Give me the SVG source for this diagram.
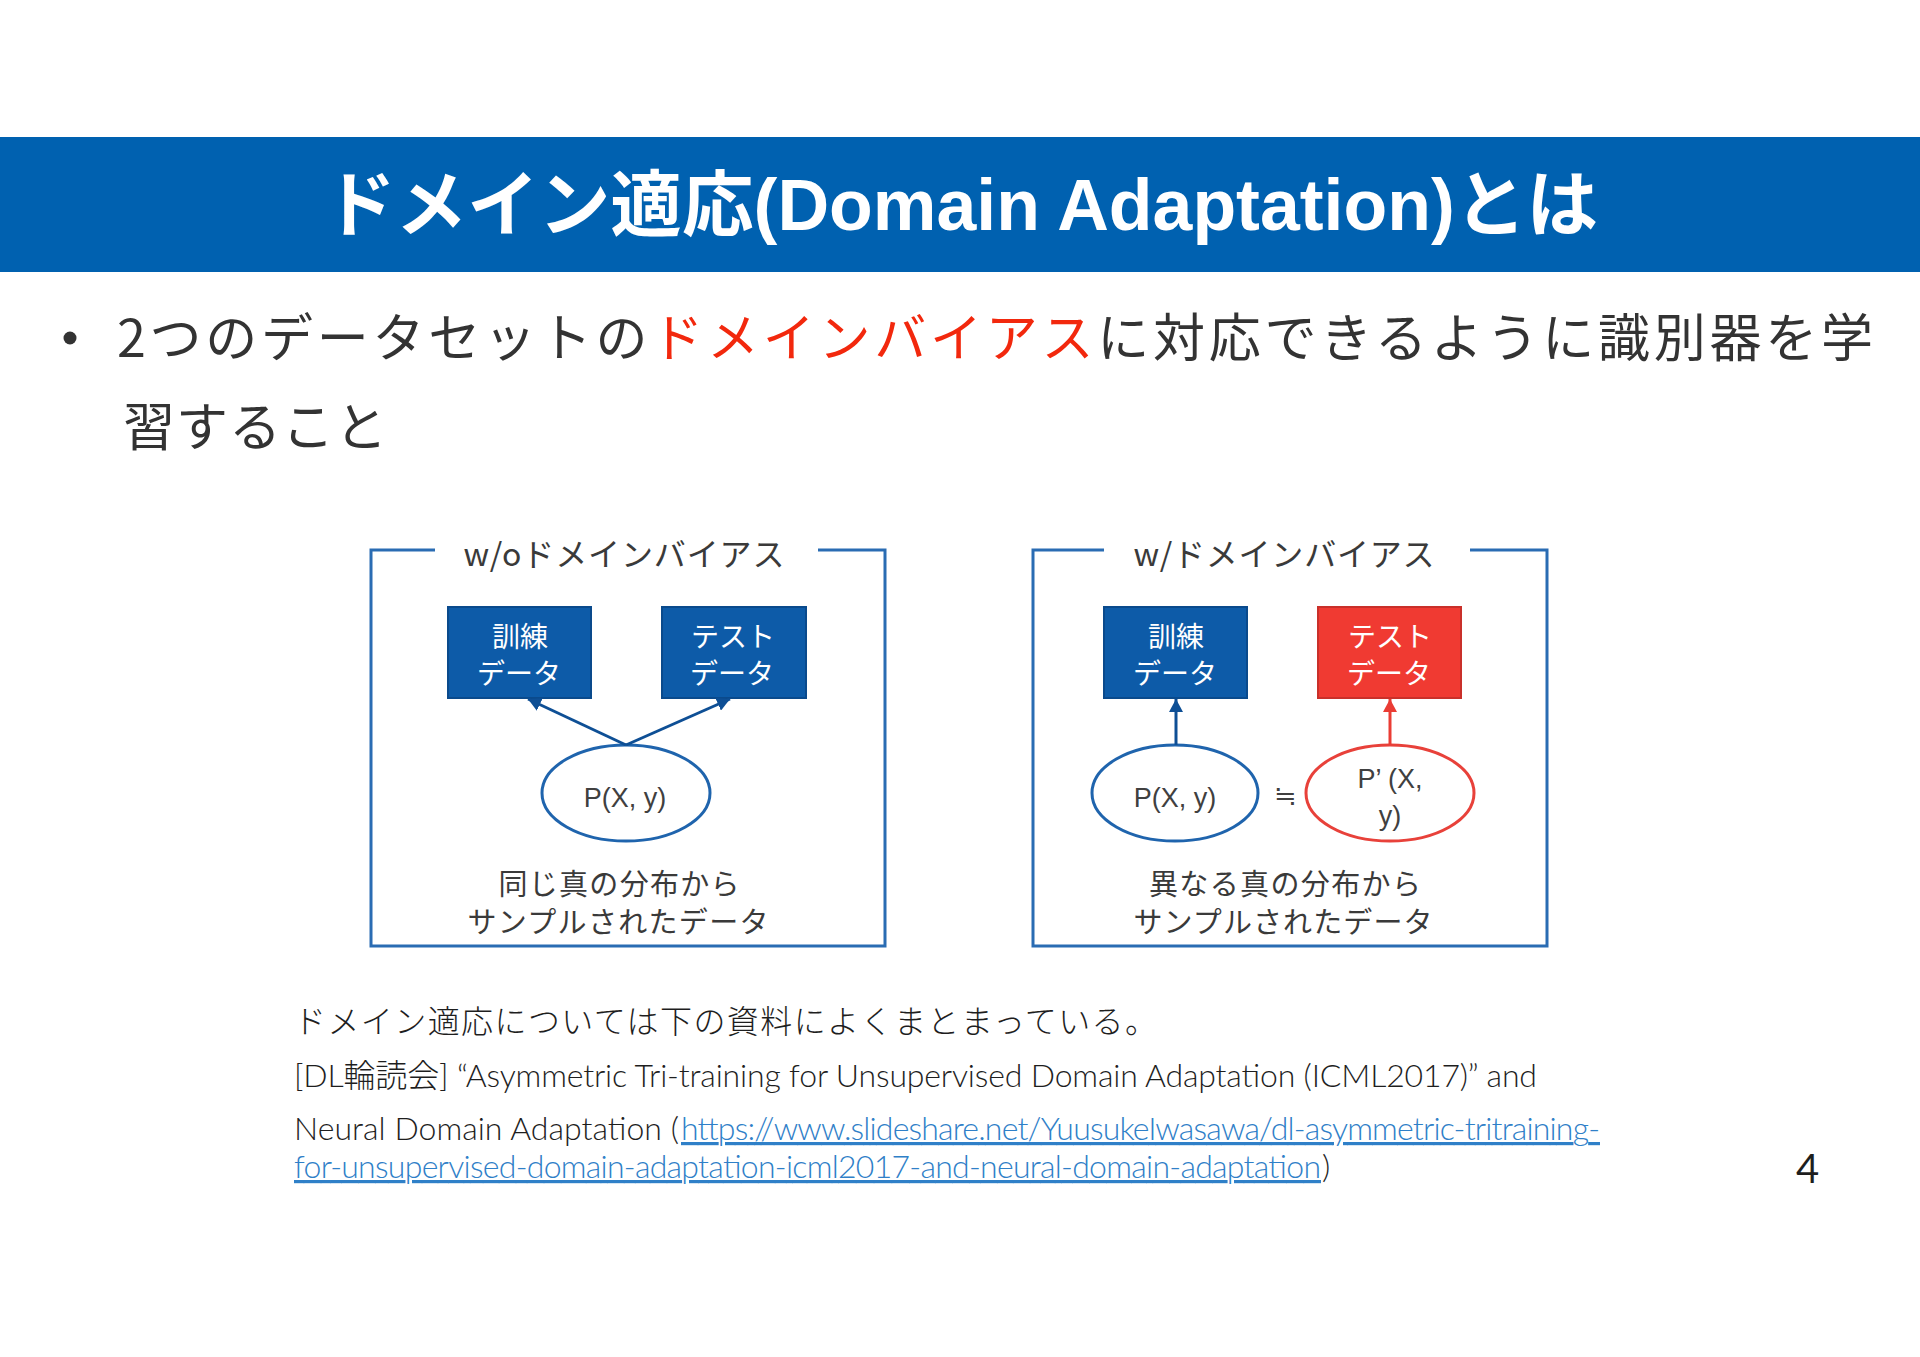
<svg xmlns="http://www.w3.org/2000/svg" width="1920" height="1357" viewBox="0 0 1920 1357">
<defs>
<style>
.jp{font-family:"Noto Sans CJK JP","Noto Sans",sans-serif;fill:#333333}
.title{font-family:"Liberation Sans","Noto Sans CJK JP",sans-serif;font-weight:bold;fill:#ffffff;font-size:72px}
.frame{fill:none;stroke:#2a6cb3;stroke-width:3}
.ptitle{font-family:"Noto Sans CJK JP",sans-serif;font-size:32px;fill:#3a3a3a;text-anchor:middle}
.boxb{fill:#0d5ba8;stroke:#0a4a8c;stroke-width:2}
.boxr{fill:#f03a32;stroke:#c9302a;stroke-width:2}
.boxt{font-family:"Noto Sans CJK JP",sans-serif;font-size:28px;fill:#ffffff;text-anchor:middle}
.ellb{fill:#ffffff;stroke:#1f64ad;stroke-width:3}
.ellr{fill:#ffffff;stroke:#e8413a;stroke-width:3}
.et{font-family:"Liberation Sans","Noto Sans CJK JP",sans-serif;font-size:27px;fill:#404040;text-anchor:middle}
.cap{font-family:"Noto Sans CJK JP",sans-serif;font-size:29px;fill:#3a3a3a;text-anchor:middle}
.ft{font-family:Lato,"Noto Sans CJK JP",sans-serif;font-weight:300;font-size:32px;fill:#1e1e1e}
.link{font-family:Lato,"Noto Sans CJK JP",sans-serif;font-weight:300;font-size:32px;fill:#2f80c8;text-decoration:underline}
.pg{font-family:Lato,sans-serif;font-size:40px;fill:#1e1e1e}
.cb{fill:none;stroke:#0e4f95;stroke-width:3}
.cr{fill:none;stroke:#ea3c34;stroke-width:3}
</style>
<marker id="ab" markerUnits="userSpaceOnUse" markerWidth="16" markerHeight="14" refX="13" refY="7" orient="auto">
<path d="M0,0 L13,7 L0,14 z" fill="#0e4f95"/>
</marker>
<marker id="ar" markerUnits="userSpaceOnUse" markerWidth="16" markerHeight="14" refX="13" refY="7" orient="auto">
<path d="M0,0 L13,7 L0,14 z" fill="#ea3c34"/>
</marker>
</defs>
<rect width="1920" height="1357" fill="#ffffff"/>

<g id="header">
<rect x="0" y="137" width="1920" height="135" fill="#0061b0"/>
<text class="title" x="324" y="230" textLength="1274" lengthAdjust="spacingAndGlyphs">ドメイン適応(Domain Adaptation)とは</text>
</g>

<g id="bullet">
<circle cx="70" cy="338" r="6.5" fill="#333333"/>
<text class="jp" x="117" y="357" font-size="52" textLength="1756">2つのデータセットの<tspan fill="#f2280d">ドメインバイアス</tspan>に対応できるように識別器を学</text>
<text class="jp" x="123" y="446" font-size="52" textLength="264">習すること</text>
</g>

<g id="panel-left">
<path class="frame" d="M435,550 H371 V946 H885 V550 H818"/>
<text class="ptitle" x="624" y="566" textLength="321">w/oドメインバイアス</text>
<text class="cap" x="619" y="895" textLength="241">同じ真の分布から</text>
<text class="cap" x="618" y="933" textLength="301">サンプルされたデータ</text>
</g>

<g id="panel-right">
<path class="frame" d="M1104,550 H1033 V946 H1547 V550 H1470"/>
<text class="ptitle" x="1284" y="566" textLength="301">w/ドメインバイアス</text>
<text class="et" x="1285" y="805" font-size="30">≒</text>
<text class="cap" x="1285" y="895" textLength="272">異なる真の分布から</text>
<text class="cap" x="1283" y="933" textLength="299">サンプルされたデータ</text>
</g>

<g id="node-train-l">
<rect class="boxb" x="448" y="607" width="143" height="91"/>
<text class="boxt" x="520" y="647">訓練</text>
<text class="boxt" x="519" y="684">データ</text>
</g>
<g id="node-test-l">
<rect class="boxb" x="662" y="607" width="144" height="91"/>
<text class="boxt" x="733" y="647">テスト</text>
<text class="boxt" x="732" y="684">データ</text>
</g>
<g id="node-p-l">
<ellipse class="ellb" cx="626" cy="793" rx="84" ry="48"/>
<text class="et" x="625" y="807">P(X, y)</text>
</g>

<g id="node-train-r">
<rect class="boxb" x="1104" y="607" width="143" height="91"/>
<text class="boxt" x="1176" y="647">訓練</text>
<text class="boxt" x="1175" y="684">データ</text>
</g>
<g id="node-test-r">
<rect class="boxr" x="1318" y="607" width="143" height="91"/>
<text class="boxt" x="1390" y="647">テスト</text>
<text class="boxt" x="1389" y="684">データ</text>
</g>
<g id="node-p-r1">
<ellipse class="ellb" cx="1175" cy="793" rx="83" ry="48"/>
<text class="et" x="1175" y="807">P(X, y)</text>
</g>
<g id="node-p-r2">
<ellipse class="ellr" cx="1390" cy="793" rx="84" ry="48"/>
<text class="et" x="1390" y="788">P’ (X,</text>
<text class="et" x="1390" y="825">y)</text>
</g>

<g id="connectors">
<line class="cb" x1="626" y1="745" x2="528" y2="699" marker-end="url(#ab)"/>
<line class="cb" x1="626" y1="745" x2="730" y2="699" marker-end="url(#ab)"/>
<line class="cb" x1="1176" y1="745" x2="1176" y2="699" marker-end="url(#ab)"/>
<line class="cr" x1="1390" y1="745" x2="1390" y2="699" marker-end="url(#ar)"/>
</g>

<g id="footer">
<text class="ft" x="294" y="1033" textLength="863">ドメイン適応については下の資料によくまとまっている。</text>
<text class="ft" x="294" y="1087" textLength="1243">[DL輪読会] “Asymmetric Tri-training for Unsupervised Domain Adaptation (ICML2017)” and</text>
<text class="ft" x="294" y="1140" textLength="385">Neural Domain Adaptation (</text>
<text class="link" x="681" y="1140" textLength="919">https://www.slideshare.net/YuusukeIwasawa/dl-asymmetric-tritraining-</text>
<text class="link" x="294" y="1178" textLength="1027">for-unsupervised-domain-adaptation-icml2017-and-neural-domain-adaptation</text>
<text class="ft" x="1322" y="1178">)</text>
<text class="pg" x="1796" y="1183">4</text>
</g>
</svg>
